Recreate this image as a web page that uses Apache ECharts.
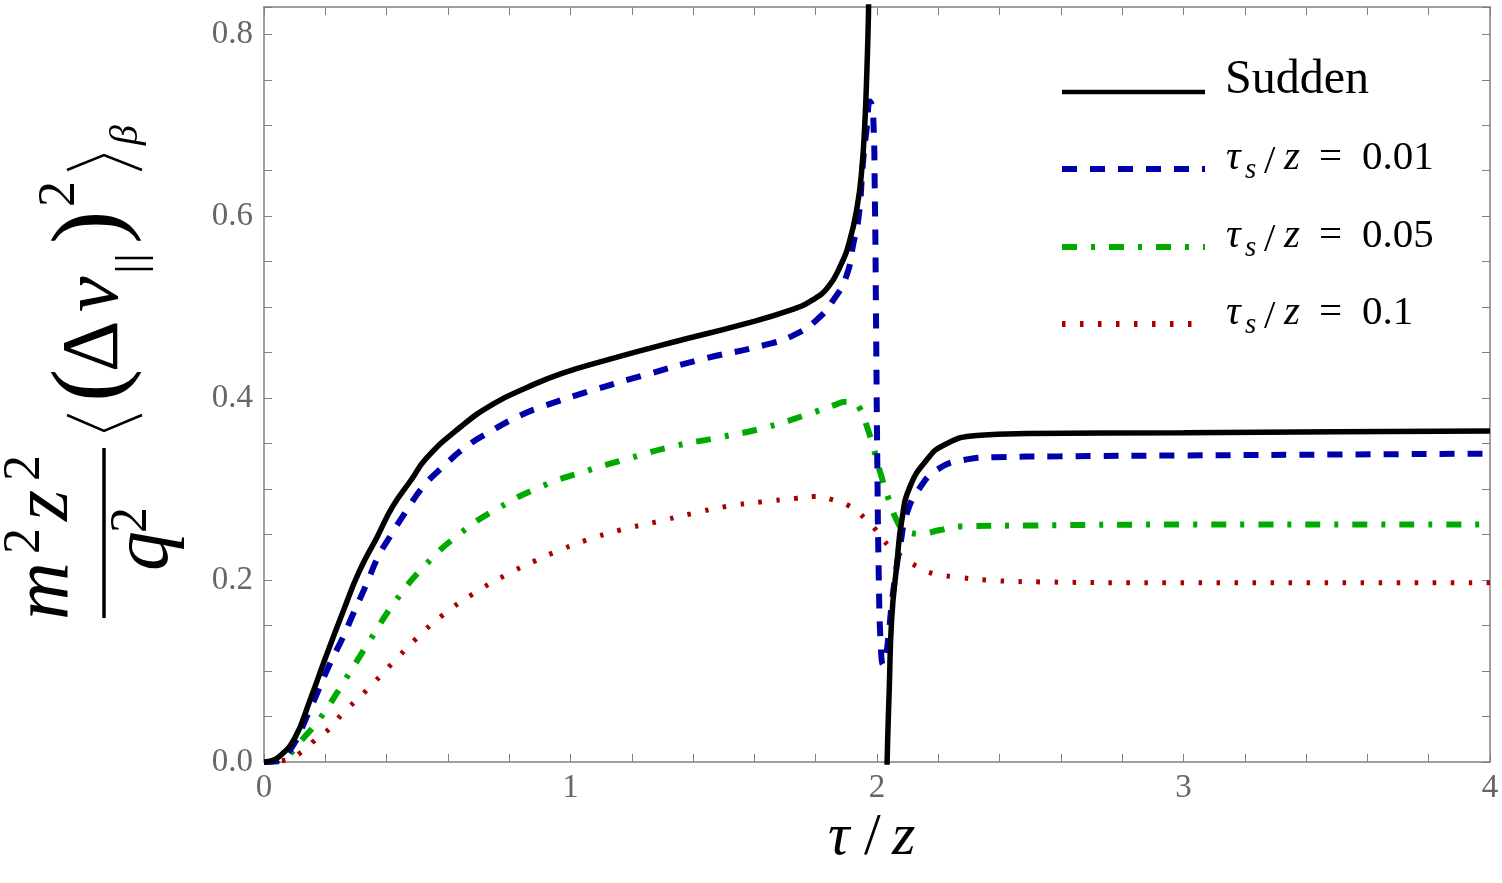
<!DOCTYPE html>
<html>
<head>
<meta charset="utf-8">
<script src="https://cdn.jsdelivr.net/npm/echarts@6/dist/echarts.min.js"></script>
<style>
    html, body { margin: 0; padding: 0; background: #fff; }
    #chart { width: 1502px; height: 883px; }
</style>
</head>
<body>
<div id="chart"></div>
<script>
// Valeurs (tau/z en abscisse)
const suddenX = [0, 0.02, 0.05, 0.1, 0.15, 0.2, 0.26, 0.31, 0.37, 0.42, 0.48, 0.53, 0.64, 0.75, 0.86, 0.97, 1.12, 1.34, 1.55, 1.72, 1.79, 1.84, 1.88, 1.91, 1.935, 1.95, 1.96, 1.967, 1.972, 1.976,
    2.0,
    2.028, 2.033, 2.04, 2.048, 2.064, 2.081, 2.108, 2.162, 2.216, 2.325, 2.49, 3.0, 3.5, 4.0];
const suddenY = [0, 0.001, 0.006, 0.026, 0.068, 0.114, 0.167, 0.209, 0.248, 0.281, 0.31, 0.334, 0.368, 0.394, 0.412, 0.427, 0.442, 0.462, 0.48, 0.497, 0.508, 0.522, 0.545, 0.572, 0.61, 0.65, 0.70, 0.76, 0.82, 0.90,
    null,
    -0.1, 0.0, 0.08, 0.158, 0.215, 0.266, 0.303, 0.332, 0.348, 0.359, 0.361, 0.362, 0.363, 0.364];

const fastX = [0, 0.04, 0.085, 0.145, 0.215, 0.259, 0.291, 0.335, 0.373, 0.417, 0.466, 0.52, 0.585, 0.661, 0.737, 0.824, 0.911, 1.085, 1.259, 1.444, 1.629, 1.727, 1.803, 1.858, 1.901, 1.923, 1.94, 1.955, 1.966, 1.977, 1.987, 1.993, 1.997, 2.001, 2.006, 2.012, 2.02, 2.028, 2.038, 2.048, 2.062, 2.075, 2.097, 2.135, 2.195, 2.282, 2.38, 2.6, 3.0, 3.5, 4.0];
const fastY = [0, 0.001, 0.013, 0.054, 0.108, 0.138, 0.163, 0.196, 0.226, 0.251, 0.277, 0.303, 0.325, 0.347, 0.363, 0.379, 0.391, 0.41, 0.427, 0.444, 0.458, 0.469, 0.486, 0.508, 0.535, 0.57, 0.599, 0.662, 0.695, 0.726, 0.715, 0.62, 0.48, 0.33, 0.2, 0.13, 0.107, 0.115, 0.14, 0.174, 0.21, 0.237, 0.273, 0.299, 0.321, 0.332, 0.335, 0.336, 0.337, 0.338, 0.339];

const mediumX = [0, 0.04, 0.069, 0.128, 0.183, 0.264, 0.346, 0.427, 0.525, 0.639, 0.764, 0.906, 1.042, 1.194, 1.335, 1.488, 1.64, 1.781, 1.858, 1.9, 1.925, 1.945, 1.966, 1.988, 2.01, 2.037, 2.064, 2.09, 2.14, 2.206, 2.271, 2.49, 3.0, 4.0];
const mediumY = [0, 0.0005, 0.004, 0.026, 0.048, 0.09, 0.134, 0.176, 0.216, 0.251, 0.279, 0.303, 0.319, 0.334, 0.347, 0.357, 0.368, 0.383, 0.392, 0.396, 0.395, 0.388, 0.37, 0.346, 0.319, 0.29, 0.266, 0.255, 0.251, 0.255, 0.259, 0.26, 0.261, 0.261];

const slowX = [0, 0.069, 0.123, 0.166, 0.215, 0.253, 0.335, 0.417, 0.498, 0.585, 0.683, 0.786, 0.89, 0.944, 1.053, 1.162, 1.281, 1.395, 1.51, 1.624, 1.738, 1.798, 1.858, 1.912, 1.96, 1.997, 2.037, 2.081, 2.13, 2.184, 2.244, 2.358, 2.532, 2.945, 4.0];
const slowY = [0, 0.002, 0.011, 0.024, 0.037, 0.052, 0.079, 0.108, 0.136, 0.162, 0.185, 0.205, 0.222, 0.23, 0.244, 0.255, 0.264, 0.273, 0.281, 0.286, 0.29, 0.292, 0.288, 0.281, 0.268, 0.255, 0.238, 0.226, 0.215, 0.207, 0.204, 0.2, 0.198, 0.197, 0.197];

const tauS = ["0.01", "0.05", "0.1"];
const seriesNames = ["Sudden", "τs/z = 0.01", "τs/z = 0.05", "τs/z = 0.1"];

const SERIF = "Liberation Serif";
const colors = ["#000000", "#0000aa", "#00aa00", "#aa0000"];
const widths = [5.5, 6, 6, 5];
const dashes = [null, [15, 13], [15, 14, 4, 14], [3.5, 14.5]];

function zip(xs, ys)
{
    return xs.map((x, i) => [x, ys[i] === null ? "-" : ys[i]]);
}

// Texte positionné par sa ligne de base
function glyph(text, x, baseline, size, italic, color)
{
    const fontStr = (italic ? "italic " : "") + size + "px '" + SERIF + "', serif";
    return {
        type: "text",
        x: x,
        y: baseline - 0.3375 * size,
        style: {
            text: text,
            font: fontStr,
            fill: color || "#000",
            align: "left", verticalAlign: "middle",
            textAlign: "left", textVerticalAlign: "middle"
        }
    };
}

function segment(x1, y1, x2, y2, w)
{
    return { type: "line", shape: { x1, y1, x2, y2 }, style: { stroke: "#000", lineWidth: w } };
}

function bracket(points)
{
    return { type: "polyline", shape: { points }, style: { stroke: "#000", lineWidth: 2.5, fill: null } };
}

// Titre de l'axe vertical (écrit à l'horizontale puis tourné)
const yLabel = {
    type: "group",
    x: 104, y: 533,
    rotation: Math.PI / 2,
    children: [
        glyph("m", -87, -31, 80, true),
        glyph("2", -21, -61, 52, false),
        glyph("z", 12, -31, 80, true),
        glyph("2", 52, -61, 52, false),
        segment(-85, 0, 85, 0, 3.5),
        glyph("q", -38, 69, 80, true),
        glyph("2", 0, 46, 52, false),
        bracket([[118, -37], [102, 0], [118, 38]]),
        glyph("(", 131, 23, 100, false),
        glyph("Δ", 161, 19, 80, false),
        glyph("v", 221, 19, 80, true),
        segment(264, 11, 264, 49, 2.5),
        segment(275, 11, 275, 49, 2.5),
        glyph(")", 289, 23, 100, false),
        glyph("2", 326, -26, 52, false),
        bracket([[363, -37], [378, 0], [363, 38]]),
        glyph("β", 388, 36, 40, true)
    ]
};

const xLabel = {
    type: "group",
    children: [
        glyph("τ", 828, 858, 60, true),
        glyph("/", 864, 858, 60, false),
        glyph("z", 892, 858, 60, true)
    ]
};

// Légende dessinée à la main pour reproduire les traits
const legendRows = [92, 169, 247, 324];
const legendItems = [];
legendRows.forEach((yy, i) =>
{
    legendItems.push({
        type: "line",
        shape: { x1: 1062, y1: yy, x2: 1205, y2: yy },
        style: { stroke: colors[i], lineWidth: i === 0 ? 4.5 : 6, lineDash: dashes[i] || null }
    });
});
legendItems.push(glyph(seriesNames[0], 1225, 97, 48, false));
tauS.forEach((v, i) =>
{
    const b = legendRows[i + 1] + 3;
    legendItems.push(glyph("τ", 1226, b, 41, true));
    legendItems.push(glyph("s", 1245, b + 8, 29, true));
    legendItems.push(glyph("/", 1264, b + 4, 41, false));
    legendItems.push(glyph("z", 1284, b, 41, true));
    legendItems.push(glyph("=", 1319, b, 41, false));
    legendItems.push(glyph(v, 1362, b, 41, false));
});

function frameAxis(extra)
{
    return Object.assign({
        type: "value",
        axisLine: { show: true, onZero: false, lineStyle: { color: "#808080", width: 1.5 } },
        axisTick: { show: true, inside: true, length: 8, lineStyle: { color: "#808080", width: 1 } },
        splitLine: { show: false }
    }, extra);
}

function isMultiple(v, step)
{
    return Math.abs(v / step - Math.round(v / step)) < 1e-6;
}

const chart = echarts.init(document.getElementById("chart"));

chart.setOption({
    animation: false,
    backgroundColor: "#fff",
    textStyle: { fontFamily: SERIF },
    grid: { left: 264, right: 12, top: 7, bottom: 121, containLabel: false },
    xAxis: [
        frameAxis({
            position: "bottom", min: 0, max: 4, interval: 0.2,
            axisLabel: {
                margin: 10, color: "#666", fontSize: 33, fontFamily: SERIF,
                formatter: (v) => isMultiple(v, 1) ? String(Math.round(v)) : ""
            }
        }),
        frameAxis({ position: "top", min: 0, max: 4, interval: 0.2, axisLabel: { show: false } })
    ],
    yAxis: [
        frameAxis({
            position: "left", min: 0, max: 0.83, interval: 0.05,
            axisLabel: {
                margin: 11, color: "#666", fontSize: 33, fontFamily: SERIF,
                formatter: (v) => (isMultiple(v, 0.2) && v < 0.81) ? v.toFixed(1) : ""
            }
        }),
        frameAxis({ position: "right", min: 0, max: 0.83, interval: 0.05, axisLabel: { show: false } })
    ],
    series: [
        [suddenX, suddenY], [fastX, fastY], [mediumX, mediumY], [slowX, slowY]
    ].map(([xs, ys], i) => ({
        name: seriesNames[i],
        type: "line",
        xAxisIndex: 0,
        yAxisIndex: 0,
        data: zip(xs, ys),
        showSymbol: false,
        smooth: 0.5,
        connectNulls: false,
        clip: true,
        z: 10 - i,
        lineStyle: { color: colors[i], width: widths[i], type: dashes[i] || "solid", cap: "butt" }
    })),
    graphic: [yLabel, xLabel].concat(legendItems)
});
</script>
</body>
</html>
